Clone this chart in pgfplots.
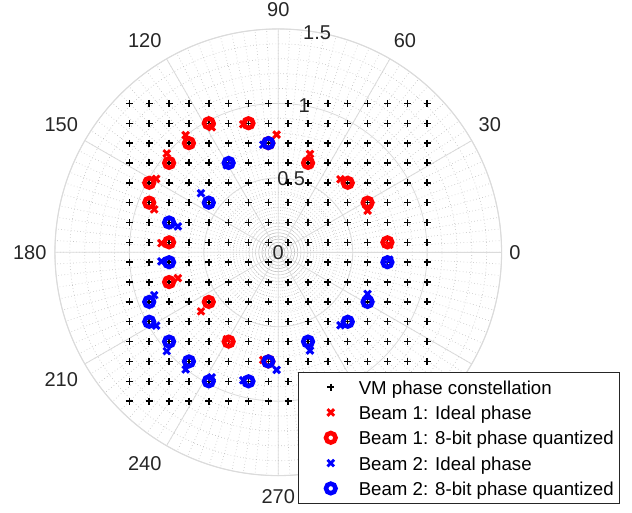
\documentclass[border=0pt]{standalone}
\usepackage{fontspec}
\setmainfont{Liberation Sans}
\usepackage{pgfplots}
\pgfplotsset{compat=1.18}
\usepgfplotslibrary{polar}
\definecolor{mtext}{gray}{0.15}
\definecolor{mgrid}{gray}{0.86}
\definecolor{mminor}{gray}{0.72}
\newcommand{\tf}{\fontsize{15}{18}\selectfont}
\begin{document}
\begin{tikzpicture}
\begin{polaraxis}[
  at={(0pt,0pt)}, anchor=origin,
  scale only axis, width=335pt, height=335pt,
  ymin=0, ymax=1.5,
  xtick={0,30,...,330},
  ytick={0,0.5,1,1.5},
  minor xtick={0,3,...,357},
  minor ytick={0.1,0.2,0.3,0.4,0.6,0.7,0.8,0.9,1.1,1.2,1.3,1.4},
  xticklabels={}, yticklabels={},
  grid=both,
  major grid style={mgrid, line width=0.6pt},
  minor grid style={mminor, dotted, line width=0.5pt},
  axis line style={mgrid, line width=0.8pt},
  major tick length=0pt, minor tick length=0pt,
  clip=false,
  legend cell align=left,
  legend style={at={(axis description cs:0.5448,0.2327)}, anchor=north west,
    draw=mtext, line width=0.75pt, fill=white,
    font=\fontsize{14}{16}\selectfont,
    inner xsep=4pt, inner ysep=1.7pt, row sep=0pt, column sep=0pt,
    nodes={draw=none, inner sep=0pt, anchor=west, text height=10.5pt, text depth=0pt}},
  legend image code/.code={\path[draw=none] (0pt,-9.5pt) rectangle (41pt,9.5pt); \draw[#1] plot coordinates {(20pt,0pt)};},
]
% theta labels
\node[anchor=west, inner sep=0pt, text=mtext, font=\tf] at (axis cs:0,1.55) {0};
\node[anchor=south west, inner sep=0pt, text=mtext, font=\tf] at (axis cs:31,1.568) {30};
\node[anchor=south west, inner sep=0pt, text=mtext, font=\tf] at (axis cs:60.5,1.573) {60};
\node[anchor=south, inner sep=0pt, text=mtext, font=\tf] at (axis cs:90,1.58) {90};
\node[anchor=south east, inner sep=0pt, text=mtext, font=\tf] at (axis cs:119.7,1.58) {120};
\node[anchor=south east, inner sep=0pt, text=mtext, font=\tf] at (axis cs:149,1.568) {150};
\node[anchor=east, inner sep=0pt, text=mtext, font=\tf] at (axis cs:180,1.555) {180};
\node[anchor=north east, inner sep=0pt, text=mtext, font=\tf] at (axis cs:211,1.568) {210};
\node[anchor=north east, inner sep=0pt, text=mtext, font=\tf] at (axis cs:240.3,1.58) {240};
\node[anchor=north, inner sep=0pt, text=mtext, font=\tf] at (axis cs:270,1.59) {270};
\node[anchor=north west, inner sep=0pt, text=mtext, font=\tf] at (axis cs:299.5,1.573) {300};
\node[anchor=north west, inner sep=0pt, text=mtext, font=\tf] at (axis cs:329,1.568) {330};
% r labels
\node[inner sep=0pt, text=mtext, font=\tf] at (axis cs:80,0) {0};
\node[inner sep=0pt, text=mtext, font=\tf] at (axis cs:80,0.5) {0.5};
\node[inner sep=0pt, text=mtext, font=\tf] at (axis cs:80,1) {1};
\node[inner sep=0pt, text=mtext, font=\tf] at (axis cs:80,1.5) {1.5};

% VM phase constellation
\addplot[data cs=cart, only marks, mark=+, mark size=2.6pt, mark options={black, line width=1.1pt, solid}] coordinates {
(-1,1) (-0.8667,1) (-0.7333,1) (-0.6,1) (-0.4667,1) (-0.3333,1) (-0.2,1) (-0.0667,1) (0.0667,1) (0.2,1) (0.3333,1) (0.4667,1) (0.6,1) (0.7333,1) (0.8667,1) (1,1)
(-1,0.8667) (-0.8667,0.8667) (-0.7333,0.8667) (-0.6,0.8667) (-0.4667,0.8667) (-0.3333,0.8667) (-0.2,0.8667) (-0.0667,0.8667) (0.0667,0.8667) (0.2,0.8667) (0.3333,0.8667) (0.4667,0.8667) (0.6,0.8667) (0.7333,0.8667) (0.8667,0.8667) (1,0.8667)
(-1,0.7333) (-0.8667,0.7333) (-0.7333,0.7333) (-0.6,0.7333) (-0.4667,0.7333) (-0.3333,0.7333) (-0.2,0.7333) (-0.0667,0.7333) (0.0667,0.7333) (0.2,0.7333) (0.3333,0.7333) (0.4667,0.7333) (0.6,0.7333) (0.7333,0.7333) (0.8667,0.7333) (1,0.7333)
(-1,0.6) (-0.8667,0.6) (-0.7333,0.6) (-0.6,0.6) (-0.4667,0.6) (-0.3333,0.6) (-0.2,0.6) (-0.0667,0.6) (0.0667,0.6) (0.2,0.6) (0.3333,0.6) (0.4667,0.6) (0.6,0.6) (0.7333,0.6) (0.8667,0.6) (1,0.6)
(-1,0.4667) (-0.8667,0.4667) (-0.7333,0.4667) (-0.6,0.4667) (-0.4667,0.4667) (-0.3333,0.4667) (-0.2,0.4667) (-0.0667,0.4667) (0.0667,0.4667) (0.2,0.4667) (0.3333,0.4667) (0.4667,0.4667) (0.6,0.4667) (0.7333,0.4667) (0.8667,0.4667) (1,0.4667)
(-1,0.3333) (-0.8667,0.3333) (-0.7333,0.3333) (-0.6,0.3333) (-0.4667,0.3333) (-0.3333,0.3333) (-0.2,0.3333) (-0.0667,0.3333) (0.0667,0.3333) (0.2,0.3333) (0.3333,0.3333) (0.4667,0.3333) (0.6,0.3333) (0.7333,0.3333) (0.8667,0.3333) (1,0.3333)
(-1,0.2) (-0.8667,0.2) (-0.7333,0.2) (-0.6,0.2) (-0.4667,0.2) (-0.3333,0.2) (-0.2,0.2) (-0.0667,0.2) (0.0667,0.2) (0.2,0.2) (0.3333,0.2) (0.4667,0.2) (0.6,0.2) (0.7333,0.2) (0.8667,0.2) (1,0.2)
(-1,0.0667) (-0.8667,0.0667) (-0.7333,0.0667) (-0.6,0.0667) (-0.4667,0.0667) (-0.3333,0.0667) (-0.2,0.0667) (-0.0667,0.0667) (0.0667,0.0667) (0.2,0.0667) (0.3333,0.0667) (0.4667,0.0667) (0.6,0.0667) (0.7333,0.0667) (0.8667,0.0667) (1,0.0667)
(-1,-0.0667) (-0.8667,-0.0667) (-0.7333,-0.0667) (-0.6,-0.0667) (-0.4667,-0.0667) (-0.3333,-0.0667) (-0.2,-0.0667) (-0.0667,-0.0667) (0.0667,-0.0667) (0.2,-0.0667) (0.3333,-0.0667) (0.4667,-0.0667) (0.6,-0.0667) (0.7333,-0.0667) (0.8667,-0.0667) (1,-0.0667)
(-1,-0.2) (-0.8667,-0.2) (-0.7333,-0.2) (-0.6,-0.2) (-0.4667,-0.2) (-0.3333,-0.2) (-0.2,-0.2) (-0.0667,-0.2) (0.0667,-0.2) (0.2,-0.2) (0.3333,-0.2) (0.4667,-0.2) (0.6,-0.2) (0.7333,-0.2) (0.8667,-0.2) (1,-0.2)
(-1,-0.3333) (-0.8667,-0.3333) (-0.7333,-0.3333) (-0.6,-0.3333) (-0.4667,-0.3333) (-0.3333,-0.3333) (-0.2,-0.3333) (-0.0667,-0.3333) (0.0667,-0.3333) (0.2,-0.3333) (0.3333,-0.3333) (0.4667,-0.3333) (0.6,-0.3333) (0.7333,-0.3333) (0.8667,-0.3333) (1,-0.3333)
(-1,-0.4667) (-0.8667,-0.4667) (-0.7333,-0.4667) (-0.6,-0.4667) (-0.4667,-0.4667) (-0.3333,-0.4667) (-0.2,-0.4667) (-0.0667,-0.4667) (0.0667,-0.4667) (0.2,-0.4667) (0.3333,-0.4667) (0.4667,-0.4667) (0.6,-0.4667) (0.7333,-0.4667) (0.8667,-0.4667) (1,-0.4667)
(-1,-0.6) (-0.8667,-0.6) (-0.7333,-0.6) (-0.6,-0.6) (-0.4667,-0.6) (-0.3333,-0.6) (-0.2,-0.6) (-0.0667,-0.6) (0.0667,-0.6) (0.2,-0.6) (0.3333,-0.6) (0.4667,-0.6) (0.6,-0.6) (0.7333,-0.6) (0.8667,-0.6) (1,-0.6)
(-1,-0.7333) (-0.8667,-0.7333) (-0.7333,-0.7333) (-0.6,-0.7333) (-0.4667,-0.7333) (-0.3333,-0.7333) (-0.2,-0.7333) (-0.0667,-0.7333) (0.0667,-0.7333) (0.2,-0.7333) (0.3333,-0.7333) (0.4667,-0.7333) (0.6,-0.7333) (0.7333,-0.7333) (0.8667,-0.7333) (1,-0.7333)
(-1,-0.8667) (-0.8667,-0.8667) (-0.7333,-0.8667) (-0.6,-0.8667) (-0.4667,-0.8667) (-0.3333,-0.8667) (-0.2,-0.8667) (-0.0667,-0.8667) (0.0667,-0.8667) (0.2,-0.8667) (0.3333,-0.8667) (0.4667,-0.8667) (0.6,-0.8667) (0.7333,-0.8667) (0.8667,-0.8667) (1,-0.8667)
(-1,-1) (-0.8667,-1) (-0.7333,-1) (-0.6,-1) (-0.4667,-1) (-0.3333,-1) (-0.2,-1) (-0.0667,-1) (0.0667,-1) (0.2,-1) (0.3333,-1) (0.4667,-1) (0.6,-1) (0.7333,-1) (0.8667,-1) (1,-1)
};
\addlegendentry{VM phase constellation}

% Beam 1 ideal
\addplot[data cs=cart, only marks, mark=x, mark size=3.5pt, mark options={red, line width=2.2pt, solid}] coordinates {
(-0.447,0.840) (-0.235,0.860) (-0.011,0.790) (-0.622,0.787) (-0.749,0.664) (0.213,0.660) (-0.820,0.493) (0.418,0.490)
(-0.833,0.288) (0.600,0.280) (-0.785,0.061) (0.745,0.050) (-0.674,-0.174) (-0.519,-0.397) (-0.345,-0.585) (-0.101,-0.723)
};
\addlegendentry{Beam 1: Ideal phase}

% Beam 1 quantized
\addplot[data cs=cart, only marks, mark=o, mark size=3.6pt, mark options={red, line width=3.4pt, solid}] coordinates {
(-0.4667,0.8667) (-0.2,0.8667) (-0.0667,0.7333) (-0.6,0.7333) (-0.7333,0.6) (0.2,0.6) (-0.8667,0.4667) (0.4667,0.4667)
(-0.8667,0.3333) (0.6,0.3333) (-0.7333,0.0667) (0.7333,0.0667) (-0.7333,-0.2) (-0.4667,-0.3333) (-0.3333,-0.6) (-0.0667,-0.7333)
};
\addlegendentry{Beam 1: 8-bit phase quantized}

% Beam 2 ideal
\addplot[data cs=cart, only marks, mark=x, mark size=3.5pt, mark options={blue, line width=2.2pt, solid}] coordinates {
(-0.447,-0.840) (-0.235,-0.860) (-0.011,-0.790) (-0.622,-0.787) (-0.749,-0.664) (0.213,-0.660) (-0.820,-0.493) (0.418,-0.490)
(-0.833,-0.288) (0.600,-0.280) (-0.785,-0.061) (0.745,-0.050) (-0.674,0.174) (-0.519,0.397) (-0.345,0.585) (-0.101,0.723)
};
\addlegendentry{Beam 2: Ideal phase}

% Beam 2 quantized
\addplot[data cs=cart, only marks, mark=o, mark size=3.6pt, mark options={blue, line width=3.4pt, solid}] coordinates {
(-0.4667,-0.8667) (-0.2,-0.8667) (-0.0667,-0.7333) (-0.6,-0.7333) (-0.7333,-0.6) (0.2,-0.6) (-0.8667,-0.4667) (0.4667,-0.4667)
(-0.8667,-0.3333) (0.6,-0.3333) (-0.7333,-0.0667) (0.7333,-0.0667) (-0.7333,0.2) (-0.4667,0.3333) (-0.3333,0.6) (-0.0667,0.7333)
};
\addlegendentry{Beam 2: 8-bit phase quantized}
\end{polaraxis}
\pgfresetboundingbox
\path[use as bounding box] (-208.7pt,-194.8pt) rectangle (265.3pt,189.2pt);
\end{tikzpicture}
\end{document}
